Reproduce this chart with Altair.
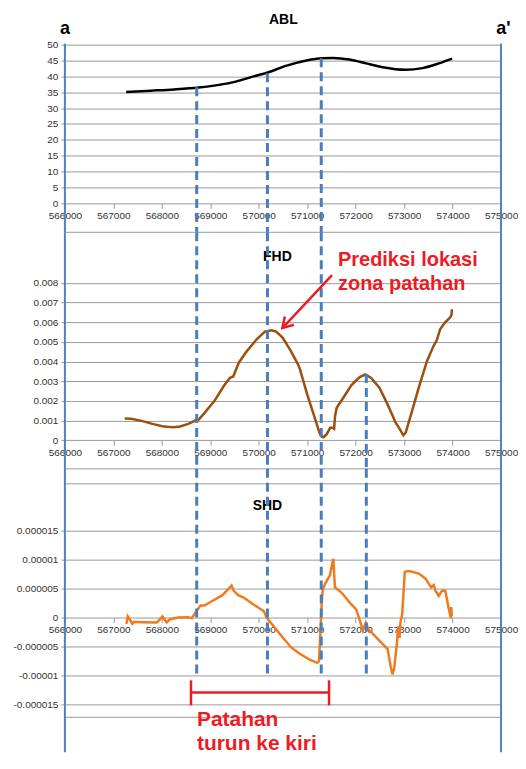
import altair as alt
import pandas as pd

FONT = "Liberation Sans"
GRID = "#9a9a9a"
LAB = "#333333"
BLUE = "#4f81bd"
DASH = "#4a7ebb"
RED = "#ed1c24"

X_MIN, X_MAX = 566000, 575000
x_ticks = list(range(566000, 575001, 1000))

# ---- ABL ----
abl_x = [567264, 567776, 568254, 568760, 569210, 569484, 569825, 570200, 570577,
         570986, 571300, 571533, 571874, 572216, 572557, 573022, 573377, 573719, 573992]
abl_y = [35.1, 35.5, 35.9, 36.5, 37.4, 38.2, 39.7, 41.3, 43.4,
         45.0, 45.7, 45.8, 45.3, 44.1, 42.9, 42.1, 42.6, 44.1, 45.6]
abl_ticks = [0, 5, 10, 15, 20, 25, 30, 35, 40, 45, 50]

# ---- FHD ----
fhd_x = [567235, 567370, 567605, 567807, 568008, 568109, 568244, 568378, 568546, 568694,
         568761, 568882, 569084, 569286, 569407, 569474, 569588, 569756, 569958, 570126,
         570260, 570361, 570496, 570664, 570818, 570851, 571000, 571168, 571255, 571300,
         571339, 571406, 571474, 571521, 571555, 571575, 571609, 571745, 571914, 572083,
         572198, 572320, 572490, 572659, 572828, 572896, 572984, 573031, 573133, 573302,
         573471, 573607, 573674, 573742, 573843, 573945, 573979, 573986]
fhd_y = [0.00110, 0.00109, 0.00097, 0.00083, 0.00071, 0.00068, 0.00066, 0.00070, 0.00083, 0.00100,
         0.00105, 0.00139, 0.00199, 0.00278, 0.00317, 0.00324, 0.00394, 0.00453, 0.00513, 0.00552,
         0.00559, 0.00552, 0.00521, 0.00453, 0.00382, 0.00360, 0.00233, 0.00105, 0.00037, 0.00018,
         0.00015, 0.00032, 0.00063, 0.00063, 0.00058, 0.00122, 0.00165, 0.00216, 0.00280, 0.00321,
         0.00334, 0.00317, 0.00267, 0.00182, 0.00088, 0.00063, 0.00025, 0.00037, 0.00122, 0.00267,
         0.00402, 0.00479, 0.00508, 0.00564, 0.00598, 0.00623, 0.00637, 0.00666]
fhd_ticks = [0, 0.001, 0.002, 0.003, 0.004, 0.005, 0.006, 0.007, 0.008]

# ---- SHD ----
shd_x = [567270, 567297, 567337, 567391, 567425, 567594, 567898, 567966, 568014, 568068,
         568101, 568169, 568338, 568541, 568622, 568690, 568798, 568880, 569015, 569250,
         569385, 569439, 569486, 569574, 569689, 569892, 570108, 570162, 570432, 570669,
         570838, 571041, 571209, 571245, 571270, 571300, 571320, 571370, 571470, 571505,
         571540, 571572, 571707, 571912, 572014, 572116, 572150, 572210, 572260, 572524,
         572660, 572728, 572762, 572796, 572850, 572880, 572905, 572925, 572960, 573014,
         573102, 573306, 573442, 573558, 573612, 573646, 573714, 573782, 573850, 573918,
         573966, 573973, 573986]
shd_y = [-1.1e-6, 0.2e-6, -0.3e-6, -1.1e-6, -0.75e-6, -0.8e-6, -0.85e-6, -0.3e-6, 0.2e-6, -0.5e-6,
         -0.85e-6, -0.3e-6, 0.0, 0.05e-6, -0.1e-6, 0.8e-6, 2.07e-6, 2.07e-6, 2.72e-6, 3.85e-6,
         5.0e-6, 5.5e-6, 4.6e-6, 3.85e-6, 3.43e-6, 2.25e-6, 1.07e-6, 0.0, -2.78e-6, -5.15e-6,
         -6.2e-6, -7.2e-6, -7.8e-6, -7.5e-6, -3.0e-6, 2.5e-6, 4.8e-6, 5.8e-6, 7.3e-6, 8.8e-6,
         10.1e-6, 5.2e-6, 4.3e-6, 2.25e-6, 1.36e-6, -1.3e-6, -2.2e-6, -0.9e-6, -2.0e-6, -4.26e-6,
         -5.44e-6, -8.7e-6, -9.8e-6, -8.7e-6, -4.6e-6, -1.5e-6, -3.5e-6, -0.8e-6, 0.5e-6, 7.87e-6,
         7.99e-6, 7.57e-6, 6.69e-6, 5.2e-6, 5.6e-6, 4.6e-6, 3.73e-6, 4.6e-6, 4.6e-6, 1.66e-6,
         -0.1e-6, 1.8e-6, 0.2e-6]
shd_ticks = [-0.000015, -0.00001, -0.000005, 0, 0.000005, 0.00001, 0.000015]

# ---- fault lines / annotations ----
fault_x = [568720, 570180, 571290, 572220]
fault_abl_top = [36.6, 41.0, 45.7]
fault4_fhd_top = 0.00336
fault_shd_bottom = -10.3e-6
frame_x = [X_MIN, X_MAX]

# panel y-domains (value ranges shown in each band) and heights
P1_DOM, P1_H = [-9.12, 50.31], 189
P2_DOM, P2_H = [-0.001457, 0.010574], 237
P3_DOM, P3_H = [-23.2e-6, 25.6e-6], 284
p2_borders = [0.010574, -0.001457]
p3_borders = [23.02e-6, -17.18e-6]

W = 437


def xoff(dom, h):
    return -h * (0 - dom[0]) / (dom[1] - dom[0])


def X(field, dom, h):
    return alt.X(field, type="quantitative",
                 scale=alt.Scale(domain=[X_MIN, X_MAX], nice=False, zero=False),
                 axis=alt.Axis(values=x_ticks, format="d", offset=xoff(dom, h), domain=False,
                               grid=False, ticks=True, tickSize=5, tickColor=GRID, tickWidth=1,
                               labelColor=LAB, labelFontSize=10, labelFont=FONT, labelPadding=2,
                               title=None, labelFlush=False, labelOverlap=False))


def Y(field, dom, vals):
    return alt.Y(field, type="quantitative",
                 scale=alt.Scale(domain=dom, nice=False, zero=False),
                 axis=alt.Axis(values=vals,
                               labelExpr="replace(format(datum.value, '~f'), '\u2212', '-')",
                               grid=True, gridColor=GRID, gridWidth=1, domain=False, tickSize=4,
                               tickColor=GRID, labelColor=LAB, labelFontSize=10, labelFont=FONT,
                               labelPadding=3, title=None, minExtent=52, maxExtent=52))


def frame_layer(dom, h, vals):
    df = pd.DataFrame({"x": frame_x, "y": [dom[1]] * 2, "y2": [dom[0]] * 2})
    return alt.Chart(df).mark_rule(color=BLUE, strokeWidth=2).encode(
        x=X("x", dom, h), y=Y("y", dom, vals), y2="y2")


def dash_layer(xs, tops, bottoms, dom, h, vals):
    df = pd.DataFrame({"x": xs, "y": tops, "y2": bottoms})
    return alt.Chart(df).mark_rule(color=DASH, strokeWidth=3, strokeDash=[9, 5]).encode(
        x=X("x", dom, h), y=Y("y", dom, vals), y2="y2")


def border_layer(ys, dom, h, vals):
    df = pd.DataFrame({"x": [X_MIN] * len(ys), "x2": [X_MAX] * len(ys), "y": ys})
    return alt.Chart(df).mark_rule(color=GRID, strokeWidth=1).encode(
        x=X("x", dom, h), x2="x2", y=Y("y", dom, vals))


def text_layer(df, dom, h, vals, **kw):
    return alt.Chart(df).mark_text(font=FONT, fontWeight="bold", **kw).encode(
        x=X("x", dom, h), y=Y("y", dom, vals), text="t:N")


# ---------- Panel 1: ABL ----------
d, h, v = P1_DOM, P1_H, abl_ticks
abl_df = pd.DataFrame({"x": abl_x, "y": abl_y})
p1 = alt.layer(
    alt.Chart(abl_df).mark_line(color="black", strokeWidth=2.5, interpolate="monotone").encode(
        x=X("x", d, h), y=Y("y", d, v)),
    frame_layer(d, h, v),
    dash_layer(fault_x[:3], fault_abl_top, [d[0]] * 3, d, h, v),
    text_layer(pd.DataFrame({"x": [570508], "y": [57.9], "t": ["ABL"]}), d, h, v,
               fontSize=14, color="black", align="center", baseline="middle"),
    text_layer(pd.DataFrame({"x": [566000, 575050], "y": [55.0, 55.0], "t": ["a", "a'"]}), d, h, v,
               fontSize=18, color="black", align="center", baseline="middle"),
).properties(width=W, height=h)

# ---------- Panel 2: FHD ----------
d, h, v = P2_DOM, P2_H, fhd_ticks
fhd_df = pd.DataFrame({"x": fhd_x, "y": fhd_y})
arrow_df = pd.DataFrame({"x": [571512, 570488], "y": [0.008391, 0.005701]})
p2 = alt.layer(
    border_layer(p2_borders, d, h, v),
    text_layer(pd.DataFrame({"x": [570385], "y": [0.009305], "t": ["FHD"]}), d, h, v,
               fontSize=14, color="black", align="center", baseline="middle"),
    alt.Chart(fhd_df).mark_line(color="#9c4f0e", strokeWidth=2.5).encode(
        x=X("x", d, h), y=Y("y", d, v)),
    frame_layer(d, h, v),
    dash_layer(fault_x, [d[1], d[1], d[1], fault4_fhd_top], [d[0]] * 4, d, h, v),
    alt.Chart(arrow_df).mark_line(color=RED, strokeWidth=2.5).encode(
        x=X("x", d, h), y=Y("y", d, v)),
    alt.Chart(arrow_df.iloc[[1]]).mark_point(
        shape="M-0.6,1L0,0L0.6,1", filled=False, color=RED, strokeWidth=2.5,
        size=420, angle=223, opacity=1).encode(x=X("x", d, h), y=Y("y", d, v)),
    text_layer(pd.DataFrame({"x": [571635, 571635], "y": [0.009153, 0.007934],
                             "t": ["Prediksi lokasi", "zona patahan"]}), d, h, v,
               fontSize=20, color=RED, align="left", baseline="middle"),
).properties(width=W, height=h)

# ---------- Panel 3: SHD ----------
d, h, v = P3_DOM, P3_H, shd_ticks
shd_df = pd.DataFrame({"x": shd_x, "y": shd_y})
bracket_h = pd.DataFrame({"x": [568602], "x2": [571451], "y": [-12.89e-6]})
bracket_v = pd.DataFrame({"x": [568602, 571451], "y": [-10.82e-6] * 2, "y2": [-15.12e-6] * 2})
p3 = alt.layer(
    border_layer(p3_borders, d, h, v),
    text_layer(pd.DataFrame({"x": [570180], "y": [19.24e-6], "t": ["SHD"]}), d, h, v,
               fontSize=14, color="black", align="center", baseline="middle"),
    alt.Chart(shd_df).mark_line(color="#f07a1e", strokeWidth=2.5).encode(
        x=X("x", d, h), y=Y("y", d, v)),
    frame_layer(d, h, v),
    dash_layer(fault_x, [d[1]] * 4, [fault_shd_bottom] * 4, d, h, v),
    alt.Chart(bracket_h).mark_rule(color=RED, strokeWidth=2.5).encode(
        x=X("x", d, h), x2="x2", y=Y("y", d, v)),
    alt.Chart(bracket_v).mark_rule(color=RED, strokeWidth=2.5).encode(
        x=X("x", d, h), y=Y("y", d, v), y2="y2"),
    text_layer(pd.DataFrame({"x": [568725, 568725], "y": [-17.70e-6, -21.82e-6],
                             "t": ["Patahan", "turun ke kiri"]}), d, h, v,
               fontSize=21, color=RED, align="left", baseline="middle"),
).properties(width=W, height=h)

chart = alt.vconcat(p1, p2, p3, spacing=0, bounds="flush").resolve_scale(
    x="independent", y="independent"
).properties(
    padding={"left": 4, "top": 3, "right": 0, "bottom": 0}
).configure_view(strokeWidth=0)

chart.save("out.html", embed_options={"renderer": "svg", "actions": False})
